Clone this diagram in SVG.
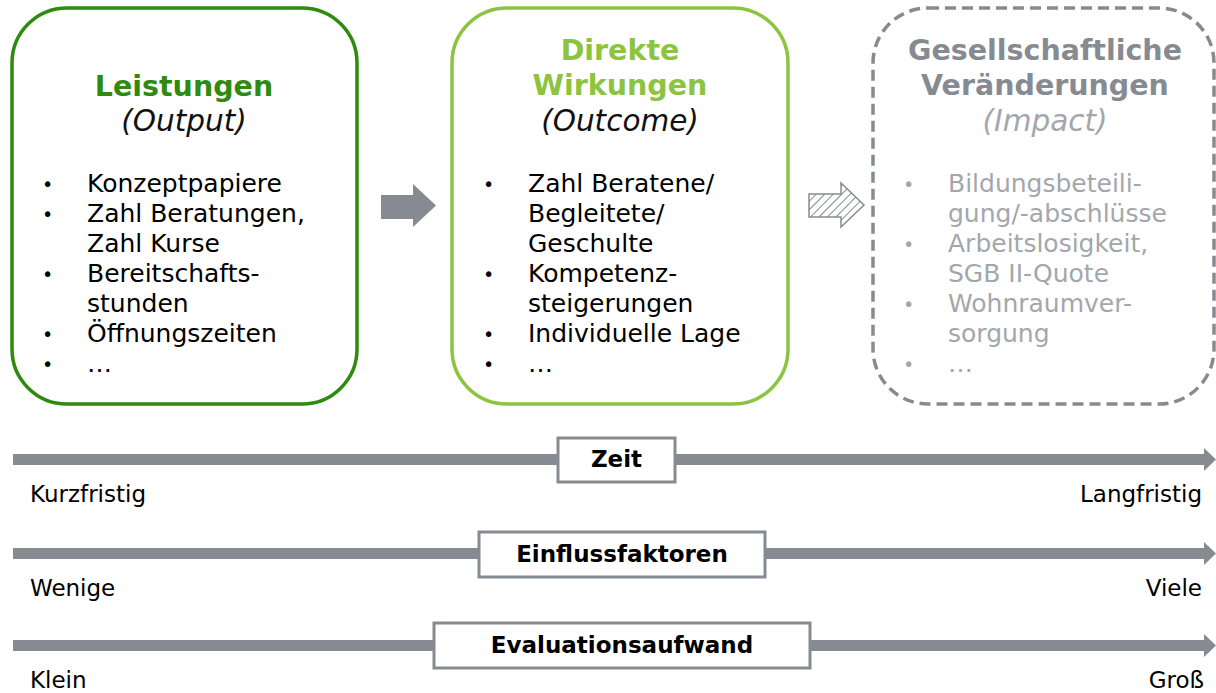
<svg xmlns="http://www.w3.org/2000/svg" width="1216" height="693" viewBox="0 0 1216 693">
<style>
text{font-family:"DejaVu Sans","Verdana",sans-serif}
.title{font-size:28.5px;font-weight:bold;text-anchor:middle}
.ital{font-size:29.5px;font-style:italic;text-anchor:middle}
.item{font-size:25px;fill:#000}
.bul{font-size:19px;fill:#000}
.grey{fill:#a3a7ab}
.lbl{font-size:23px;fill:#000}
.blbl{font-size:23px;font-weight:bold;fill:#000;text-anchor:middle}
.bar{fill:#868b91}
.lbox{fill:#fff;stroke:#868b91;stroke-width:3}
</style>
<defs>
<pattern id="hatch" patternUnits="userSpaceOnUse" width="6" height="6" patternTransform="rotate(45)">
<rect width="6" height="6" fill="#fff"/>
<line x1="0" y1="0" x2="0" y2="6" stroke="#868b91" stroke-width="2"/>
</pattern>
</defs>

<g id="node-leistungen">
<rect x="12" y="8" width="345" height="396" rx="55" fill="#fff" stroke="#2e8b0e" stroke-width="3.5"/>
<text class="title" x="184" y="96" fill="#2e8b0e">Leistungen</text>
<text class="ital" x="184" y="131" fill="#111">(Output)</text>
<text class="bul" x="42" y="191">•</text><text class="item" x="87" y="192">Konzeptpapiere</text>
<text class="bul" x="42" y="221">•</text><text class="item" x="87" y="222">Zahl Beratungen,</text>
<text class="item" x="87" y="252">Zahl Kurse</text>
<text class="bul" x="42" y="281">•</text><text class="item" x="87" y="282">Bereitschafts-</text>
<text class="item" x="87" y="312">stunden</text>
<text class="bul" x="42" y="341">•</text><text class="item" x="87" y="342">Öffnungszeiten</text>
<text class="bul" x="42" y="371">•</text><text class="item" x="87" y="372">…</text>
</g>

<g id="node-wirkungen">
<rect x="452" y="8" width="336" height="396" rx="55" fill="#fff" stroke="#8cc43f" stroke-width="3.5"/>
<text class="title" x="620" y="60" fill="#8cc43f">Direkte</text>
<text class="title" x="620" y="95" fill="#8cc43f">Wirkungen</text>
<text class="ital" x="620" y="131" fill="#111">(Outcome)</text>
<text class="bul" x="483" y="191">•</text><text class="item" x="528" y="192">Zahl Beratene/</text>
<text class="item" x="528" y="222">Begleitete/</text>
<text class="item" x="528" y="252">Geschulte</text>
<text class="bul" x="483" y="281">•</text><text class="item" x="528" y="282">Kompetenz-</text>
<text class="item" x="528" y="312">steigerungen</text>
<text class="bul" x="483" y="341">•</text><text class="item" x="528" y="342">Individuelle Lage</text>
<text class="bul" x="483" y="371">•</text><text class="item" x="528" y="372">…</text>
</g>

<g id="node-veraenderungen">
<rect x="873" y="8" width="341" height="396" rx="55" fill="#fff" stroke="#868b91" stroke-width="3.5" stroke-dasharray="11 6"/>
<text class="title" x="1045" y="60" fill="#868b91">Gesellschaftliche</text>
<text class="title" x="1045" y="95" fill="#868b91">Veränderungen</text>
<text class="ital" x="1045" y="131" fill="#a3a7ab">(Impact)</text>
<text class="bul grey" x="903" y="191">•</text><text class="item grey" x="948" y="192">Bildungsbeteili-</text>
<text class="item grey" x="948" y="222">gung/-abschlüsse</text>
<text class="bul grey" x="903" y="251">•</text><text class="item grey" x="948" y="252">Arbeitslosigkeit,</text>
<text class="item grey" x="948" y="282">SGB II-Quote</text>
<text class="bul grey" x="903" y="311">•</text><text class="item grey" x="948" y="312">Wohnraumver-</text>
<text class="item grey" x="948" y="342">sorgung</text>
<text class="bul grey" x="903" y="371">•</text><text class="item grey" x="948" y="372">…</text>
</g>

<g id="connectors">
<polygon points="381,195 413,195 413,184 436,205.5 413,227 413,219 381,219" fill="#868b91"/>
<polygon points="809,194 841,194 841,183 864,205 841,227 841,217 809,217" fill="url(#hatch)" stroke="#868b91" stroke-width="1.5"/>
</g>

<g id="scale-zeit">
<rect class="bar" x="13" y="454" width="1194" height="11"/>
<polygon class="bar" points="1204,448 1216,459.5 1204,471"/>
<rect class="lbox" x="558" y="438" width="117" height="44"/>
<text class="blbl" x="616.5" y="467">Zeit</text>
<text class="lbl" x="30" y="502">Kurzfristig</text>
<text class="lbl" x="1202" y="502" text-anchor="end">Langfristig</text>
</g>

<g id="scale-einfluss">
<rect class="bar" x="13" y="548" width="1194" height="11"/>
<polygon class="bar" points="1204,542 1216,553.5 1204,565"/>
<rect class="lbox" x="479" y="532" width="286" height="45"/>
<text class="blbl" x="622" y="562">Einflussfaktoren</text>
<text class="lbl" x="30" y="596">Wenige</text>
<text class="lbl" x="1202" y="596" text-anchor="end">Viele</text>
</g>

<g id="scale-aufwand">
<rect class="bar" x="13" y="640" width="1194" height="11"/>
<polygon class="bar" points="1204,634 1216,645.5 1204,657"/>
<rect class="lbox" x="434" y="623" width="376" height="45"/>
<text class="blbl" x="622" y="653">Evaluationsaufwand</text>
<text class="lbl" x="30" y="688">Klein</text>
<text class="lbl" x="1204" y="688" text-anchor="end">Groß</text>
</g>
</svg>
